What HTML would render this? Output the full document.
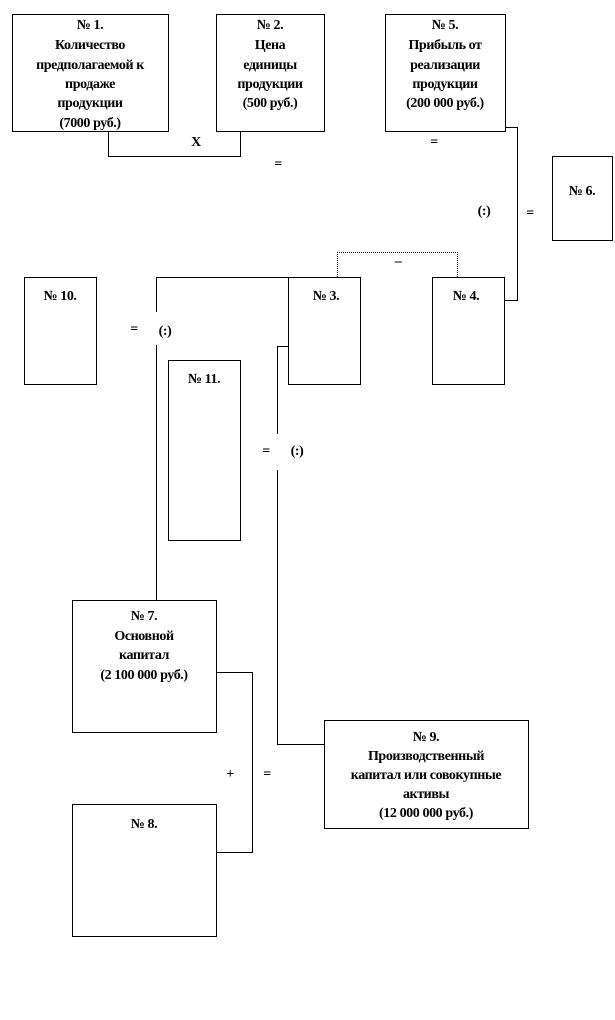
<!DOCTYPE html>
<html><head><meta charset="utf-8"><style>
body{margin:0;background:#fff;}
svg{display:block;}
text{font-family:"Liberation Serif","DejaVu Serif",serif;font-weight:bold;font-size:14px;fill:#000;text-anchor:middle;letter-spacing:-0.4px;}
.b{fill:#fff;stroke:#000;stroke-width:1;}
.l{fill:none;stroke:#000;stroke-width:1;}
</style></head><body>
<svg width="615" height="1020" viewBox="0 0 615 1020">
<rect x="0" y="0" width="615" height="1020" fill="#fff"/>
<rect class="b" x="12.5" y="14.5" width="156" height="117"/>
<rect class="b" x="216.5" y="14.5" width="108" height="117"/>
<rect class="b" x="385.5" y="14.5" width="120" height="117"/>
<rect class="b" x="552.5" y="156.5" width="60" height="84"/>
<rect class="b" x="24.5" y="277.5" width="72" height="107"/>
<rect class="b" x="288.5" y="277.5" width="72" height="107"/>
<rect class="b" x="432.5" y="277.5" width="72" height="107"/>
<rect class="b" x="168.5" y="360.5" width="72" height="180"/>
<rect class="b" x="72.5" y="600.5" width="144" height="132"/>
<rect class="b" x="72.5" y="804.5" width="144" height="132"/>
<rect class="b" x="324.5" y="720.5" width="204" height="108"/>
<polyline class="l" points="108.5,131 108.5,156.5 240.5,156.5 240.5,131"/>
<polyline class="l" points="505,127.5 517.5,127.5 517.5,300.5 505,300.5"/>
<polyline class="l" points="337.5,277 337.5,252.5 457.5,252.5 457.5,277" stroke-dasharray="1,1"/>
<polyline class="l" points="288,277.5 156.5,277.5 156.5,312"/>
<line class="l" x1="156.5" y1="345" x2="156.5" y2="600"/>
<polyline class="l" points="288,346.5 277.5,346.5 277.5,434"/>
<polyline class="l" points="277.5,470 277.5,744.5 324,744.5"/>
<polyline class="l" points="217,672.5 252.5,672.5 252.5,852.5 217,852.5"/>
<text x="196" y="146">X</text>
<text x="278" y="168">=</text>
<text x="434" y="146">=</text>
<text x="484" y="215">(:)</text>
<text x="530" y="217">=</text>
<text x="398" y="265">–</text>
<text x="134" y="333">=</text>
<text x="165" y="335">(:)</text>
<text x="266" y="455">=</text>
<text x="297" y="455">(:)</text>
<text x="230" y="778">+</text>
<text x="267" y="778">=</text>
<text x="90" y="29">№ 1.</text>
<text x="90" y="49">Количество</text>
<text x="90" y="69">предполагаемой к</text>
<text x="90" y="88">продаже</text>
<text x="90" y="107">продукции</text>
<text x="90" y="127">(7000 руб.)</text>
<text x="270" y="29">№ 2.</text>
<text x="270" y="49">Цена</text>
<text x="270" y="69">единицы</text>
<text x="270" y="88">продукции</text>
<text x="270" y="107">(500 руб.)</text>
<text x="445" y="29">№ 5.</text>
<text x="445" y="49">Прибыль от</text>
<text x="445" y="69">реализации</text>
<text x="445" y="88">продукции</text>
<text x="445" y="107">(200 000 руб.)</text>
<text x="582" y="195">№ 6.</text>
<text x="60" y="300">№ 10.</text>
<text x="326" y="300">№ 3.</text>
<text x="466" y="300">№ 4.</text>
<text x="204" y="383">№ 11.</text>
<text x="144" y="620">№ 7.</text>
<text x="144" y="640">Основной</text>
<text x="144" y="659">капитал</text>
<text x="144" y="679">(2 100 000 руб.)</text>
<text x="144" y="828">№ 8.</text>
<text x="426" y="741">№ 9.</text>
<text x="426" y="760">Производственный</text>
<text x="426" y="779">капитал или совокупные</text>
<text x="426" y="798">активы</text>
<text x="426" y="817">(12 000 000 руб.)</text>
</svg>
</body></html>
